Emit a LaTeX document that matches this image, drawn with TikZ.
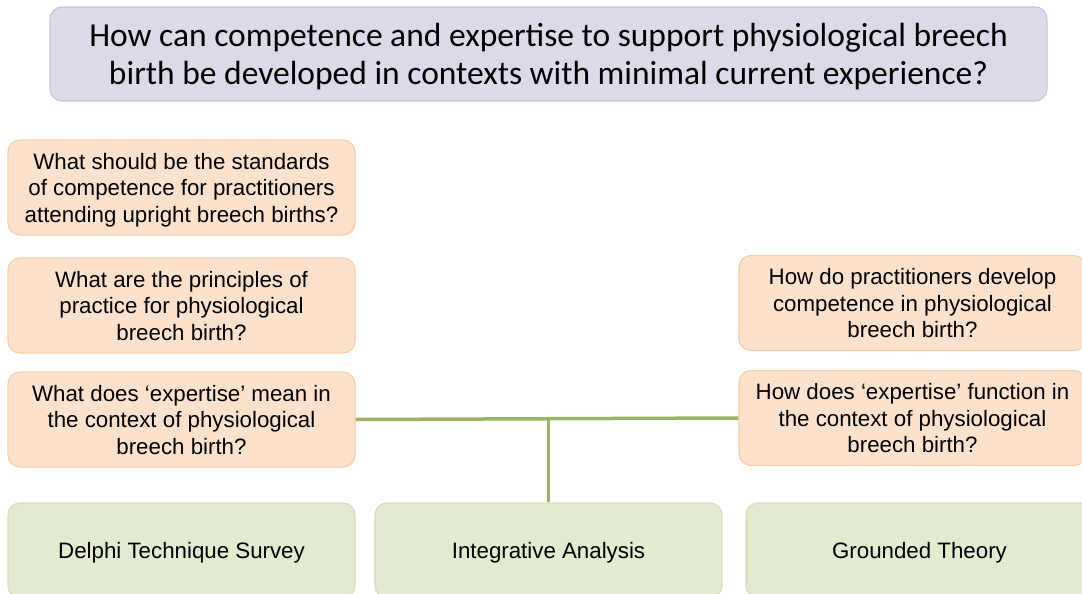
\documentclass[tikz,border=0pt]{standalone}
\usepackage{fontspec}
\setmainfont{Liberation Sans}
\newfontfamily\titlefont{Carlito}
\definecolor{mainfill}{RGB}{221,217,233}
\definecolor{maindraw}{RGB}{200,196,218}
\definecolor{qfill}{RGB}{252,225,204}
\definecolor{qdraw}{RGB}{249,205,166}
\definecolor{mfill}{RGB}{226,234,208}
\definecolor{mdraw}{RGB}{212,223,186}
\definecolor{linkgreen}{RGB}{155,179,100}

\begin{document}
\begin{tikzpicture}[x=1pt,y=-1pt,
  mainbox/.style={draw=maindraw,fill=mainfill,line width=1.2pt,rounded corners=12pt,
    minimum width=997pt,minimum height=94pt,align=center,inner sep=0pt,text depth=-2.5pt,
    font=\titlefont\fontsize{33.5}{38}\selectfont},
  question/.style={draw=qdraw,fill=qfill,line width=1.2pt,rounded corners=12pt,
    minimum width=347pt,minimum height=95pt,align=center,inner sep=0pt,text depth=-3pt,
    font=\fontsize{22.3}{26.5}\selectfont},
  method/.style={draw=mdraw,fill=mfill,line width=1.2pt,rounded corners=12pt,
    minimum width=347pt,minimum height=95pt,align=center,inner sep=0pt,text depth=0.7pt,
    font=\fontsize{22.3}{26.5}\selectfont},
  link/.style={draw=linkgreen,line width=3.5pt}]
\path[use as bounding box] (0,0) rectangle (1082,594);

\node[mainbox] (main) at (548.5,54) {How can competence and expertise to support physiological breech\\birth be developed in contexts with minimal current experience?};

% research questions
\node[question] (q1) at (181.5,187.5) {What should be the standards\\of competence for practitioners\\attending upright breech births?};
\node[question] (q2) at (181.5,305.5) {What are the principles of\\practice for physiological\\breech birth?};
\node[question] (q3) at (181.5,419.5) {What does `expertise' mean in\\the context of physiological\\breech birth?};
\node[question] (q4) at (912.5,303) {How do practitioners develop\\competence in physiological\\breech birth?};
\node[question] (q5) at (912.5,418) {How does `expertise' function in\\the context of physiological\\breech birth?};

% methods
\node[method] (m1) at (181.5,550.5) {Delphi Technique Survey};
\node[method] (m2) at (548.5,550.5) {Integrative Analysis};
\node[method] (m3) at (919.5,550.5) {Grounded Theory};

\draw[link] (q3.east) -- (q5.west);
\draw[link] (m2.north) -- (m2.north |- q3.east);
\end{tikzpicture}
\end{document}
